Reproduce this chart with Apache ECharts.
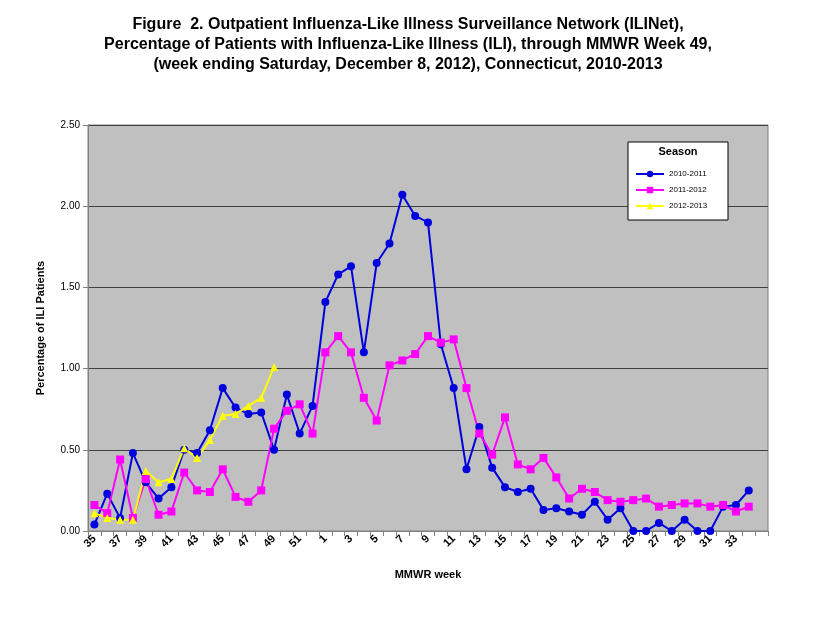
<!DOCTYPE html>
<html><head><meta charset="utf-8">
<script src="https://cdn.jsdelivr.net/npm/echarts@6/dist/echarts.min.js"></script>
<style>html,body{margin:0;padding:0;background:#fff}#c{width:816px;height:639px}</style>
</head><body><div id="c"></div>
<script>
var weeks = [35,36,37,38,39,40,41,42,43,44,45,46,47,48,49,50,51,52,1,2,3,4,5,6,7,8,9,10,11,12,13,14,15,16,17,18,19,20,21,22,23,24,25,26,27,28,29,30,31,32,33,34,''];
var s1011 = [0.04,0.23,0.08,0.48,0.30,0.20,0.27,0.50,0.48,0.62,0.88,0.76,0.72,0.73,0.50,0.84,0.60,0.77,1.41,1.58,1.63,1.10,1.65,1.77,2.07,1.94,1.90,1.15,0.88,0.38,0.64,0.39,0.27,0.24,0.26,0.13,0.14,0.12,0.10,0.18,0.07,0.14,0.00,0.00,0.05,0.00,0.07,0.00,0.00,0.15,0.16,0.25];
var s1112 = [0.16,0.11,0.44,0.08,0.32,0.10,0.12,0.36,0.25,0.24,0.38,0.21,0.18,0.25,0.63,0.74,0.78,0.60,1.10,1.20,1.10,0.82,0.68,1.02,1.05,1.09,1.20,1.16,1.18,0.88,0.60,0.47,0.70,0.41,0.38,0.45,0.33,0.20,0.26,0.24,0.19,0.18,0.19,0.20,0.15,0.16,0.17,0.17,0.15,0.16,0.12,0.15];
var s1213 = [0.11,0.08,0.07,0.07,0.37,0.30,0.32,0.51,0.45,0.56,0.71,0.72,0.77,0.82,1.01];

var chart = echarts.init(document.getElementById('c'));
function ser(name, data, color, symbol) {
  return {name: name, type: 'line', data: data, symbol: symbol, symbolSize: 8,
    itemStyle: {color: color}, lineStyle: {color: color, width: 2}, animation: false};
}
chart.setOption({
  backgroundColor: '#fff',
  title: {
    text: 'Figure  2. Outpatient Influenza-Like Illness Surveillance Network (ILINet),\nPercentage of Patients with Influenza-Like Illness (ILI), through MMWR Week 49,\n(week ending Saturday, December 8, 2012), Connecticut, 2010-2013',
    left: 'center', top: 10,
    textStyle: {fontFamily: 'Liberation Sans', fontSize: 16, fontWeight: 'bold', lineHeight: 20, color: '#000'}
  },
  grid: {left: 88, right: 48, top: 125, bottom: 108, show: true, backgroundColor: '#c0c0c0', borderColor: '#808080', borderWidth: 1},
  graphic: [
    {type: 'rect', shape: {x: 628, y: 142, width: 100, height: 78}, style: {fill: '#fff', stroke: '#000', lineWidth: 1}, z: 10},
    {type: 'text', x: 678, y: 152, style: {text: 'Season', fontFamily: 'Liberation Sans', fontSize: 11, fontWeight: 'bold', textAlign: 'center', textVerticalAlign: 'middle', fill: '#000'}, z: 11}
  ],
  legend: {
    orient: 'vertical', left: 630, top: 165, itemGap: 8, itemWidth: 28, itemHeight: 8, z: 12,
    textStyle: {fontFamily: 'Liberation Sans', fontSize: 8, color: '#000'},
    data: ['2010-2011', '2011-2012', '2012-2013']
  },
  xAxis: {
    type: 'category', data: weeks, boundaryGap: true,
    name: 'MMWR week', nameLocation: 'middle', nameGap: 38,
    nameTextStyle: {fontFamily: 'Liberation Sans', fontSize: 11, fontWeight: 'bold', color: '#000'},
    axisLine: {lineStyle: {color: '#808080'}},
    axisTick: {show: true, interval: 0, lineStyle: {color: '#808080'}},
    axisLabel: {interval: 1, rotate: 45, fontFamily: 'Liberation Sans', fontSize: 11, fontWeight: 'bold', color: '#000', margin: 6}
  },
  yAxis: {
    type: 'value', min: 0, max: 2.5, interval: 0.5,
    name: 'Percentage of ILI Patients', nameLocation: 'middle', nameGap: 42,
    nameTextStyle: {fontFamily: 'Liberation Sans', fontSize: 11, fontWeight: 'bold', color: '#000'},
    axisLine: {show: true, lineStyle: {color: '#808080'}},
    axisTick: {show: true, lineStyle: {color: '#808080'}},
    axisLabel: {formatter: function (v) { return v.toFixed(2); }, fontFamily: 'Liberation Sans', fontSize: 10, color: '#000'},
    splitLine: {lineStyle: {color: '#404040', width: 1}}
  },
  series: [
    ser('2010-2011', s1011, '#0000dd', 'circle'),
    ser('2011-2012', s1112, '#ff00ff', 'rect'),
    ser('2012-2013', s1213, '#ffff00', 'triangle')
  ]
});
</script></body></html>
